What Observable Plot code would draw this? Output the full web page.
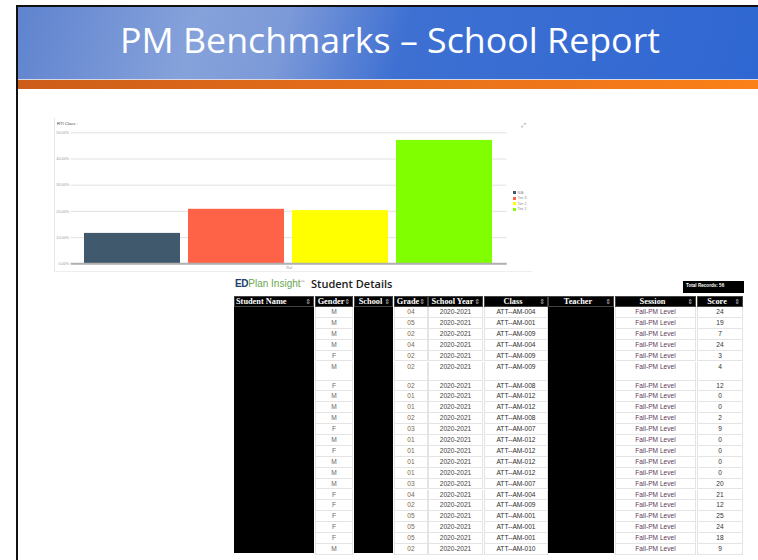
<!DOCTYPE html>
<html><head><meta charset="utf-8">
<script src="https://cdn.jsdelivr.net/npm/d3@7"></script>
<script src="https://cdn.jsdelivr.net/npm/@observablehq/plot@0.6"></script>
<style>
body{margin:0;width:758px;height:560px;position:relative;overflow:hidden;background:#fff;font-family:"Liberation Sans",Arial,sans-serif}
.abs{position:absolute;box-sizing:border-box}
#banner{left:18px;top:7px;width:740px;height:72px;background:linear-gradient(105deg,#5f83cf 0%,#86a2db 24%,#7c99d8 36%,#3e70d2 52%,#2f67d2 100%)}
#stripe{left:18px;top:80px;width:740px;height:9px;background:linear-gradient(90deg,#cc5d19 0%,#e46d1a 45%,#fb8018 100%)}
.hcell{background:#000;color:#fff;font:bold 8.3px "Liberation Serif",serif;line-height:10px;white-space:nowrap;overflow:hidden;border:1px solid #444}
.sort{position:absolute;right:2px;top:0;font:7px "DejaVu Sans",sans-serif;color:#bbb;line-height:10px}
.bcell{background:#fff;font:6.6px "Liberation Sans",Arial,sans-serif;line-height:10.9px;text-align:center;white-space:nowrap;overflow:hidden;border-right:1px solid #e4e4e4;border-bottom:1px solid #e4e4e4;border-left:1px solid #e4e4e4}
.leg{font:3.6px "Liberation Sans",Arial,sans-serif;color:#888;line-height:5.5px;white-space:nowrap}
.leg span.sw{display:inline-block;width:3px;height:3px;margin-right:1.5px;vertical-align:middle}
</style></head><body>
<div class="abs" style="left:16px;top:5px;width:742px;height:2px;background:#111"></div>
<div class="abs" style="left:16px;top:5px;width:2px;height:555px;background:#111"></div>
<div class="abs" id="banner"></div>
<div class="abs" style="left:18px;top:79px;width:740px;height:1px;background:#d9d9e6"></div>
<div class="abs" id="stripe"></div>
<svg class="abs" style="left:18px;top:7px" width="740" height="72">
  <text id="title" x="372" y="46" text-anchor="middle" fill="#fff" font-family="Open Sans" font-size="35" textLength="540" lengthAdjust="spacingAndGlyphs"></text>
</svg>

<div class="abs" id="chartbox" style="left:54px;top:118px;width:478px;height:154px;border-left:1px solid #e6e6e6;border-bottom:1px solid #eeeeee"></div>
<div class="abs" id="chart" style="left:54px;top:118px;width:476px;height:156px"></div>
<div class="abs" id="charttitle" style="left:57px;top:121px;font:4.2px 'Liberation Sans',Arial;color:#444"></div>
<div class="abs" style="left:521px;top:121px;font:6px 'DejaVu Sans';color:#777">⤢</div>
<div class="abs" id="legend" style="left:513px;top:190.5px"></div>

<div class="abs" id="logo" style="left:235px;top:278px;font:10px 'Liberation Sans',Arial;white-space:nowrap"></div>
<div class="abs" id="details" style="left:311px;top:276px;font:600 11px 'Open Sans','Liberation Sans';color:#222;white-space:nowrap"></div>
<div class="abs" id="total" style="left:683px;top:281px;width:61px;height:12px;background:#000;color:#fff;font:bold 4.6px 'Liberation Sans';line-height:10px;padding-left:3px"></div>
<div id="table"></div>

<script>
// ---- slide text ----
const slideTitle = "PM Benchmarks \u2013 School Report";
const chartTitle = "RTI Class :";
const xLabel = "Ral";

// ---- bar chart data ----
const categories = ["N/A", "Tier 3", "Tier 2", "Tier 1"];
const percents = [11.6, 20.8, 20.3, 47.1];
const barColors = ["#41596d", "#ff6347", "#ffff00", "#80ff00"];
const yTicks = [0, 10, 20, 30, 40, 50];
const yTickLabels = ["0.00%", "10.00%", "20.00%", "30.00%", "40.00%", "50.00%"];

// ---- table data ----
const headers = ["Student Name", "Gender", "School", "Grade", "School Year", "Class", "Teacher", "Session", "Score"];
const genders = ["M","M","M","M","F","M","F","M","M","M","F","M","F","M","M","M","F","F","F","F","F","M"];
const grades = ["04","05","02","04","02","02","02","01","01","02","03","01","01","01","01","03","04","02","05","05","05","02"];
const years = ["2020-2021","2020-2021","2020-2021","2020-2021","2020-2021","2020-2021","2020-2021","2020-2021","2020-2021","2020-2021","2020-2021","2020-2021","2020-2021","2020-2021","2020-2021","2020-2021","2020-2021","2020-2021","2020-2021","2020-2021","2020-2021","2020-2021"];
const classes = ["ATT--AM-004","ATT--AM-001","ATT--AM-009","ATT--AM-004","ATT--AM-009","ATT--AM-009","ATT--AM-008","ATT--AM-012","ATT--AM-012","ATT--AM-008","ATT--AM-007","ATT--AM-012","ATT--AM-012","ATT--AM-012","ATT--AM-012","ATT--AM-007","ATT--AM-004","ATT--AM-009","ATT--AM-001","ATT--AM-001","ATT--AM-001","ATT--AM-010"];
const sessions = ["Fall-PM Level","Fall-PM Level","Fall-PM Level","Fall-PM Level","Fall-PM Level","Fall-PM Level","Fall-PM Level","Fall-PM Level","Fall-PM Level","Fall-PM Level","Fall-PM Level","Fall-PM Level","Fall-PM Level","Fall-PM Level","Fall-PM Level","Fall-PM Level","Fall-PM Level","Fall-PM Level","Fall-PM Level","Fall-PM Level","Fall-PM Level","Fall-PM Level"];
const scores = [24,19,7,24,3,4,12,0,0,2,9,0,0,0,0,20,21,12,25,24,18,9];
const totalRecords = 56;

// ---- slide text ----
document.getElementById("title").textContent = slideTitle;
document.getElementById("charttitle").textContent = chartTitle;

// ---- chart ----
const barData = categories.map((c, i) => ({category: c, percent: percents[i]}));
const chart = Plot.plot({
  width: 476, height: 156,
  marginLeft: 16.7, marginRight: 23.3, marginTop: 14.3, marginBottom: 10.7,
  style: {background: "transparent", fontFamily: "Liberation Sans, Arial, sans-serif", overflow: "visible"},
  x: {domain: categories, range: [26.3, 442.3], paddingInner: 0.077, paddingOuter: 0.0385, axis: null},
  y: {domain: [0, 50]},
  color: {domain: categories, range: barColors},
  marks: [
    Plot.gridY(yTicks, {stroke: "#e2e2e2", strokeOpacity: 1, strokeWidth: 1}),
    Plot.axisY(yTicks, {tickSize: 0, tickPadding: 2, fontSize: 3.8, fill: "#9a9a9a", label: null,
      tickFormat: d => yTickLabels[yTicks.indexOf(d)]}),
    Plot.barY(barData, {x: "category", y: "percent", fill: "category"}),
    Plot.ruleY([0], {stroke: "#b0b0b0", strokeWidth: 2}),
    Plot.text([xLabel], {frameAnchor: "bottom", dy: 5, fontSize: 3.8, fill: "#999"})
  ]
});
document.getElementById("chart").appendChild(chart);

// legend (vertical swatches)
const legend = document.getElementById("legend");
categories.forEach((c, i) => {
  const d = document.createElement("div");
  d.className = "leg";
  d.innerHTML = `<span class="sw" style="background:${barColors[i]}"></span>${c}`;
  legend.appendChild(d);
});

// ---- heading above table ----
document.getElementById("logo").innerHTML =
  '<span style="color:#21406e;font-weight:bold;letter-spacing:-0.3px">ED</span><span style="color:#6aa84f">Plan Insight</span><sup style="font-size:4px;color:#888">\u2122</sup>';
document.getElementById("details").textContent = "Student Details";
document.getElementById("total").textContent = "Total Records: " + totalRecords;

// ---- table ----
const colLeft = [234, 315, 354, 394, 428, 484, 548, 615, 697];
const colWidth = [80, 38, 39, 34, 55, 64, 66, 81, 46];
const redacted = [true, false, true, false, false, false, true, false, false];
const colValues = [null, genders, null, grades, years, classes, null, sessions, scores];
const colColor = [null, "#666", null, "#7a6a4a", "#444", "#2e2e2e", null, "#5e3a58", "#333"];
const table = document.getElementById("table");
const headTop = 296, headH = 11, rowH = 10.9, tallRowH = 19;
headers.forEach((h, c) => {
  const d = document.createElement("div");
  d.className = "abs hcell";
  Object.assign(d.style, {left: colLeft[c] + "px", top: headTop + "px", width: colWidth[c] + "px", height: headH + "px",
    textAlign: c === 0 ? "left" : "center", paddingLeft: c === 0 ? "1px" : "0", paddingRight: c === 0 ? "0" : "6px"});
  d.innerHTML = h + '<span class="sort">\u21D5</span>';
  table.appendChild(d);
});
let y = headTop + headH;
const rowTops = [];
genders.forEach((g, r) => {
  const h = r === 5 ? tallRowH : rowH;
  rowTops.push([y, h]);
  y += h;
});
const bodyBottom = y;
colValues.forEach((vals, c) => {
  if (redacted[c]) {
    const d = document.createElement("div");
    d.className = "abs";
    Object.assign(d.style, {left: colLeft[c] + "px", top: (headTop + headH) + "px", width: colWidth[c] + "px",
      height: (bodyBottom - headTop - headH - 1.5) + "px", background: "#000"});
    table.appendChild(d);
    return;
  }
  vals.forEach((v, r) => {
    const [top, h] = rowTops[r];
    const d = document.createElement("div");
    d.className = "abs bcell";
    Object.assign(d.style, {left: colLeft[c] + "px", top: top + "px", width: colWidth[c] + "px", height: h + "px", color: colColor[c]});
    d.textContent = v;
    table.appendChild(d);
  });
});
</script>
</body></html>
